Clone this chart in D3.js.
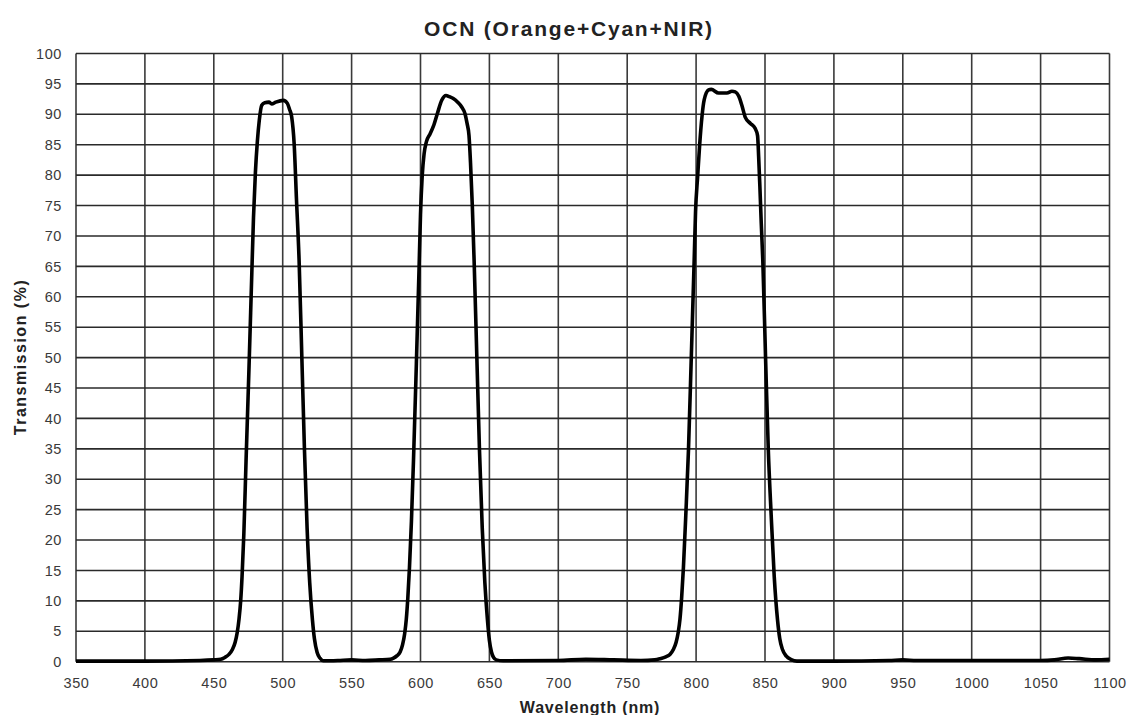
<!DOCTYPE html>
<html><head><meta charset="utf-8">
<script src="https://cdn.jsdelivr.net/npm/d3@7"></script>
<style>body{margin:0;background:#fff;font-family:"Liberation Sans",Arial,sans-serif;}</style>
</head><body><svg id="c" width="1137" height="715"></svg>
<script>
const title = "OCN (Orange+Cyan+NIR)";
const xLabel = "Wavelength (nm)";
const yLabel = "Transmission (%)";
const xTicks = d3.range(350, 1101, 50);
const yTicks = d3.range(0, 101, 5);
const wavelength = [350,400,440,450,455,458,461,463.5,465.5,467,468.3,469.5,470.5,471.8,473.4,475.5,477.6,478.8,480.2,481.6,483,484.8,487,490,492,495,500.5,503.4,505,506.5,508.3,510,511.9,513.9,515.8,517.7,519.6,521.6,523,525,527,529.5,540,550,560,570,578,580.4,583,585.2,587,588.5,589.7,590.8,592,593.4,594.9,597,599,600,601.2,602.6,604.3,607,609.3,612.2,615.4,618.5,621,623.8,627,629.9,632.3,633.8,635.2,636.3,637.6,638.9,640.9,642.8,644.8,646.7,648.6,650,651.5,653,655,660,700,720,740,760,770,774,778,781,783.5,785.5,787,788.3,789.5,790.8,792.5,794.5,796.5,798.6,799.6,801.1,802.5,804.3,805.9,809.1,811,816.3,822.4,826,828.4,830.9,833.3,835.7,839.4,842.8,844.6,845.4,846.3,847.3,848.4,850.4,852.4,854.5,856.7,859.1,860.7,862.7,865.5,869,873.2,900,940,950,960,1000,1050,1060,1070,1078,1090,1100];
const transmission = [0.1,0.1,0.2,0.3,0.4,0.7,1.2,2.0,3.2,4.8,7,10,14,21,33,48,64,73,80.5,85.5,89,91.5,91.9,92.0,91.7,92.0,92.3,91.8,90.8,89.6,85.2,76,66,50,34.8,22,13,6.85,3.8,1.5,0.6,0.15,0.2,0.3,0.2,0.3,0.4,0.6,1.0,1.6,2.8,4.6,7,10.5,15.5,23,33,49,65,73.5,79.7,83.5,85.5,86.8,88,90.1,92.3,93.1,92.9,92.6,92,91.2,90.1,88.5,86.5,82,75,66,50,34.8,22,13,6.85,3.5,1.6,0.7,0.3,0.15,0.2,0.4,0.3,0.2,0.3,0.5,0.8,1.2,2,3.2,4.8,7,10.5,15.5,24,35,50,66,74,79.7,84.7,89.7,92.4,94.0,94.1,93.5,93.5,93.8,93.7,93.0,91.4,89.5,88.5,87.7,86.5,83,78,72,66,50,34.8,24,14,6.85,3.8,2,0.9,0.35,0.1,0.1,0.2,0.3,0.2,0.2,0.2,0.3,0.6,0.5,0.3,0.4];

const svg = d3.select("#c");
const W = 1137, H = 715;
const m = {l:76, r:W-1109.5, t:53.5, b:H-661.7};
const x = d3.scaleLinear().domain([350,1100]).range([m.l, W-m.r]);
const y = d3.scaleLinear().domain([0,100]).range([H-m.b, m.t]);

const grid = svg.append("g");
grid.selectAll("line.v").data(xTicks).join("line")
  .attr("x1", d=>x(d)).attr("x2", d=>x(d)).attr("y1", y(0)).attr("y2", y(100))
  .attr("stroke","#3a3a3a").attr("stroke-width",1.6);
grid.selectAll("line.h").data(yTicks).join("line")
  .attr("y1", d=>y(d)).attr("y2", d=>y(d)).attr("x1", x(350)).attr("x2", x(1100))
  .attr("stroke","#2a2a2a").attr("stroke-width",1.6);

const fmt = d3.format("d");
const xAxis = svg.append("g").attr("transform",`translate(0,${y(0)})`)
  .call(d3.axisBottom(x).tickValues(xTicks).tickFormat(fmt).tickSize(0).tickPadding(16));
xAxis.select(".domain").remove();
xAxis.selectAll("text").attr("font-size",14.5).attr("letter-spacing",0.6).attr("fill","#3a3a3a").attr("font-family","Liberation Sans, Arial");

const yAxis = svg.append("g").attr("transform",`translate(${x(350)},0)`)
  .call(d3.axisLeft(y).tickValues(yTicks).tickFormat(fmt).tickSize(0).tickPadding(14));
yAxis.select(".domain").remove();
yAxis.selectAll("text").attr("font-size",14.5).attr("letter-spacing",0.6).attr("fill","#3a3a3a").attr("font-family","Liberation Sans, Arial");

const pts = wavelength.map((w,i)=>[w, transmission[i]]);
svg.append("path").datum(pts)
  .attr("d", d3.line().x(d=>x(d[0])).y(d=>y(d[1])).curve(d3.curveMonotoneX))
  .attr("fill","none").attr("stroke","#000").attr("stroke-width",3.6).attr("stroke-linejoin","round");

svg.append("text").attr("x",569).attr("y",36).attr("text-anchor","middle")
  .attr("font-size",21).attr("letter-spacing",1.8).attr("font-weight","bold").attr("fill","#222").text(title);
svg.append("text").attr("x",590).attr("y",713).attr("text-anchor","middle")
  .attr("font-size",16).attr("letter-spacing",0.8).attr("font-weight","bold").attr("fill","#222").text(xLabel);
svg.append("text").attr("transform","translate(26,357) rotate(-90)").attr("text-anchor","middle")
  .attr("font-size",16).attr("letter-spacing",1.5).attr("font-weight","bold").attr("fill","#222").text(yLabel);
</script></body></html>
